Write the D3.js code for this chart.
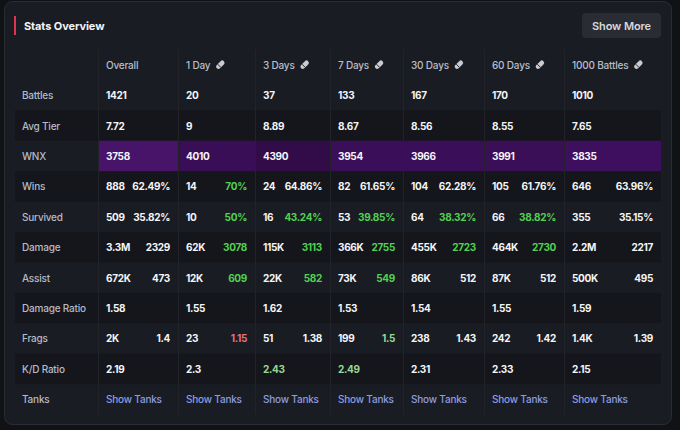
<html>
  <head>
    <title>Stats Overview</title>
  <style type="text/css">
    body{
      margin: 0;
      background: #111216;
      font-family: Inter, "Noto Sans", sans-serif;
    }
  </style>
  </head>
  <body>
    <script src="https://d3js.org/d3.v7.min.js"></script>
    <div id="graph_item"></div>
    <script>

// column headers and which ones have the edit pencil
var columns = ["Overall", "1 Day", "3 Days", "7 Days", "30 Days", "60 Days", "1000 Battles"];
var editable = [false, true, true, true, true, true, true];

// row values, one entry per column
var battles = ["1421", "20", "37", "133", "167", "170", "1010"];
var avgTier = ["7.72", "9", "8.89", "8.67", "8.56", "8.55", "7.65"];
var wnx = [3758, 4010, 4390, 3954, 3966, 3991, 3835];
var wins = ["888", "14", "24", "82", "104", "105", "646"];
var winRate = ["62.49%", "70%", "64.86%", "61.65%", "62.28%", "61.76%", "63.96%"];
var winRateTrend = [0, 2, 0, 0, 0, 0, 0];
var survived = ["509", "10", "16", "53", "64", "66", "355"];
var survivedRate = ["35.82%", "50%", "43.24%", "39.85%", "38.32%", "38.82%", "35.15%"];
var survivedTrend = [0, 2, 2, 2, 2, 2, 0];
var damage = ["3.3M", "62K", "115K", "366K", "455K", "464K", "2.2M"];
var avgDamage = ["2329", "3078", "3113", "2755", "2723", "2730", "2217"];
var avgDamageTrend = [0, 2, 2, 2, 2, 2, 0];
var assist = ["672K", "12K", "22K", "73K", "86K", "87K", "500K"];
var avgAssist = ["473", "609", "582", "549", "512", "512", "495"];
var avgAssistTrend = [0, 2, 2, 2, 0, 0, 0];
var damageRatio = ["1.58", "1.55", "1.62", "1.53", "1.54", "1.55", "1.59"];
var frags = ["2K", "23", "51", "199", "238", "242", "1.4K"];
var avgFrags = ["1.4", "1.15", "1.38", "1.5", "1.43", "1.42", "1.39"];
var avgFragsTrend = [0, -1, 0, 1, 0, 0, 0];
var kdRatio = ["2.19", "2.3", "2.43", "2.49", "2.31", "2.33", "2.15"];
var kdTrend = [0, 0, 1, 1, 0, 0, 0];

var rows = [
  {label: "Battles", main: battles},
  {label: "Avg Tier", main: avgTier},
  {label: "WNX", main: wnx, wnx: true},
  {label: "Wins", main: wins, side: winRate, sideTrend: winRateTrend},
  {label: "Survived", main: survived, side: survivedRate, sideTrend: survivedTrend},
  {label: "Damage", main: damage, side: avgDamage, sideTrend: avgDamageTrend},
  {label: "Assist", main: assist, side: avgAssist, sideTrend: avgAssistTrend},
  {label: "Damage Ratio", main: damageRatio},
  {label: "Frags", main: frags, side: avgFrags, sideTrend: avgFragsTrend},
  {label: "K/D Ratio", main: kdRatio, mainTrend: kdTrend},
  {label: "Tanks", link: "Show Tanks"}
];

var width = 680, height = 430;

var svg = d3.select("#graph_item")
  .append("svg")
    .attr("width", width)
    .attr("height", height);

// card
svg.append("rect")
  .attr("x", 4.5).attr("y", 1.5)
  .attr("width", 667).attr("height", 423)
  .attr("rx", 8)
  .attr("fill", "#1a1c23")
  .attr("stroke", "#2a2c34");

// title
svg.append("rect")
  .attr("x", 14).attr("y", 16).attr("width", 2).attr("height", 19)
  .attr("fill", "#e0334d");
svg.append("text")
  .attr("x", 24).attr("y", 26)
  .attr("dominant-baseline", "central")
  .attr("fill", "#f2f3f5")
  .style("font-size", "11px")
  .style("font-weight", 700)
  .style("letter-spacing", "-0.1px")
  .text("Stats Overview");

// show more button
var btn = svg.append("g").attr("transform", "translate(582,13)");
btn.append("rect").attr("width", 79).attr("height", 25).attr("rx", 4).attr("fill", "#2a2c33");
btn.append("text")
  .attr("x", 39.5).attr("y", 13)
  .attr("text-anchor", "middle")
  .attr("dominant-baseline", "central")
  .attr("fill", "#d6d8de")
  .style("font-size", "11px")
  .style("font-weight", 600)
  .style("letter-spacing", "-0.1px")
  .text("Show More");

// layout of the table
var tableLeft = 15, labelWidth = 83;
var colWidths = [80, 77, 75, 73, 81, 80, 97];
var colEdges = [tableLeft + labelWidth];
colWidths.forEach(function(w, i){ colEdges.push(colEdges[i] + w); });
var tableRight = colEdges[colEdges.length - 1];
var pad = 8;

var y = d3.scaleBand()
  .domain(["header"].concat(rows.map(function(d){ return d.label; })))
  .range([49.5, 414.5]);

var wnxColor = d3.scaleLinear()
  .domain([3758, 3835, 4390])
  .range(["#47146a", "#3e0f5e", "#320b49"]);

var trendColor = function(t){
  if (t === 2) return "#52d152";
  if (t === 1) return "#95da95";
  if (t === -1) return "#e2727b";
  return "#f4f5f7";
};

// striped rows
svg.selectAll(".stripe")
  .data(rows.filter(function(d, i){ return i % 2 === 1; }))
  .join("rect")
    .attr("class", "stripe")
    .attr("x", tableLeft)
    .attr("y", function(d){ return y(d.label); })
    .attr("width", tableRight - tableLeft)
    .attr("height", y.bandwidth())
    .attr("fill", "#15161b");

// WNX cells
var wnxRow = rows[2];
svg.selectAll(".wnx")
  .data(wnxRow.main)
  .join("rect")
    .attr("class", "wnx")
    .attr("x", function(d, i){ return colEdges[i]; })
    .attr("y", y(wnxRow.label))
    .attr("width", function(d, i){ return colWidths[i]; })
    .attr("height", y.bandwidth())
    .attr("fill", function(d){ return wnxColor(d); });

// column separators
svg.selectAll(".sep")
  .data(colEdges.slice(0, -1))
  .join("line")
    .attr("class", "sep")
    .attr("x1", function(d){ return d + 0.5; })
    .attr("x2", function(d){ return d + 0.5; })
    .attr("y1", y.range()[0])
    .attr("y2", y.range()[1])
    .attr("stroke", "#212329")
    .attr("stroke-width", 1);

// header
var header = svg.selectAll(".colhead")
  .data(columns)
  .join("g")
    .attr("class", "colhead")
    .attr("transform", function(d, i){
      return "translate(" + (colEdges[i] + pad) + "," + (y("header") + y.bandwidth() / 2) + ")";
    });
header.append("text")
  .attr("dominant-baseline", "central")
  .attr("fill", "#b9bdc8")
  .style("font-size", "10px")
  .style("font-weight", 500)
  .style("letter-spacing", "-0.2px")
  .text(function(d){ return d; });
header.each(function(d, i){
  if (!editable[i]) return;
  var g = d3.select(this);
  var w = g.select("text").node().getComputedTextLength();
  var pencil = g.append("g").attr("transform", "translate(" + (w + 10) + ",0) rotate(-45)");
  pencil.append("rect")
    .attr("x", -5).attr("y", -2.3).attr("width", 10).attr("height", 4.6).attr("rx", 2.3)
    .attr("fill", "#c9cbd1");
  pencil.append("line")
    .attr("x1", -1.5).attr("x2", -1.5).attr("y1", -2.3).attr("y2", 2.3)
    .attr("stroke", "#1a1c23").attr("stroke-width", 0.9);
});

// row labels
svg.selectAll(".rowlabel")
  .data(rows)
  .join("text")
    .attr("class", "rowlabel")
    .attr("x", 22)
    .attr("y", function(d){ return y(d.label) + y.bandwidth() / 2; })
    .attr("dominant-baseline", "central")
    .attr("fill", "#b5bac6")
    .style("font-size", "10px")
    .style("font-weight", 500)
    .style("letter-spacing", "-0.2px")
    .text(function(d){ return d.label; });

// cells
rows.forEach(function(row){
  var cy = y(row.label) + y.bandwidth() / 2;
  var g = svg.append("g");
  if (row.link) {
    g.selectAll("text")
      .data(columns)
      .join("text")
        .attr("x", function(d, i){ return colEdges[i] + pad; })
        .attr("y", cy)
        .attr("dominant-baseline", "central")
        .attr("fill", "#8d9ce0")
        .style("font-size", "10px")
        .style("font-weight", 500)
        .style("letter-spacing", "-0.2px")
        .text(row.link);
    return;
  }
  g.selectAll(".main")
    .data(row.main)
    .join("text")
      .attr("class", "main")
      .attr("x", function(d, i){ return colEdges[i] + pad; })
      .attr("y", cy)
      .attr("dominant-baseline", "central")
      .attr("fill", function(d, i){ return row.mainTrend ? trendColor(row.mainTrend[i]) : "#f4f5f7"; })
      .style("font-size", "10px")
      .style("font-weight", 700)
      .style("letter-spacing", "-0.3px")
      .text(function(d){ return d; });
  if (row.side) {
    g.selectAll(".side")
      .data(row.side)
      .join("text")
        .attr("class", "side")
        .attr("x", function(d, i){ return colEdges[i + 1] - pad; })
        .attr("y", cy)
        .attr("text-anchor", "end")
        .attr("dominant-baseline", "central")
        .attr("fill", function(d, i){ return trendColor(row.sideTrend[i]); })
        .style("font-size", "10px")
        .style("font-weight", 700)
        .style("letter-spacing", "-0.3px")
        .text(function(d){ return d; });
  }
});
</script>
  </body>
</html>
